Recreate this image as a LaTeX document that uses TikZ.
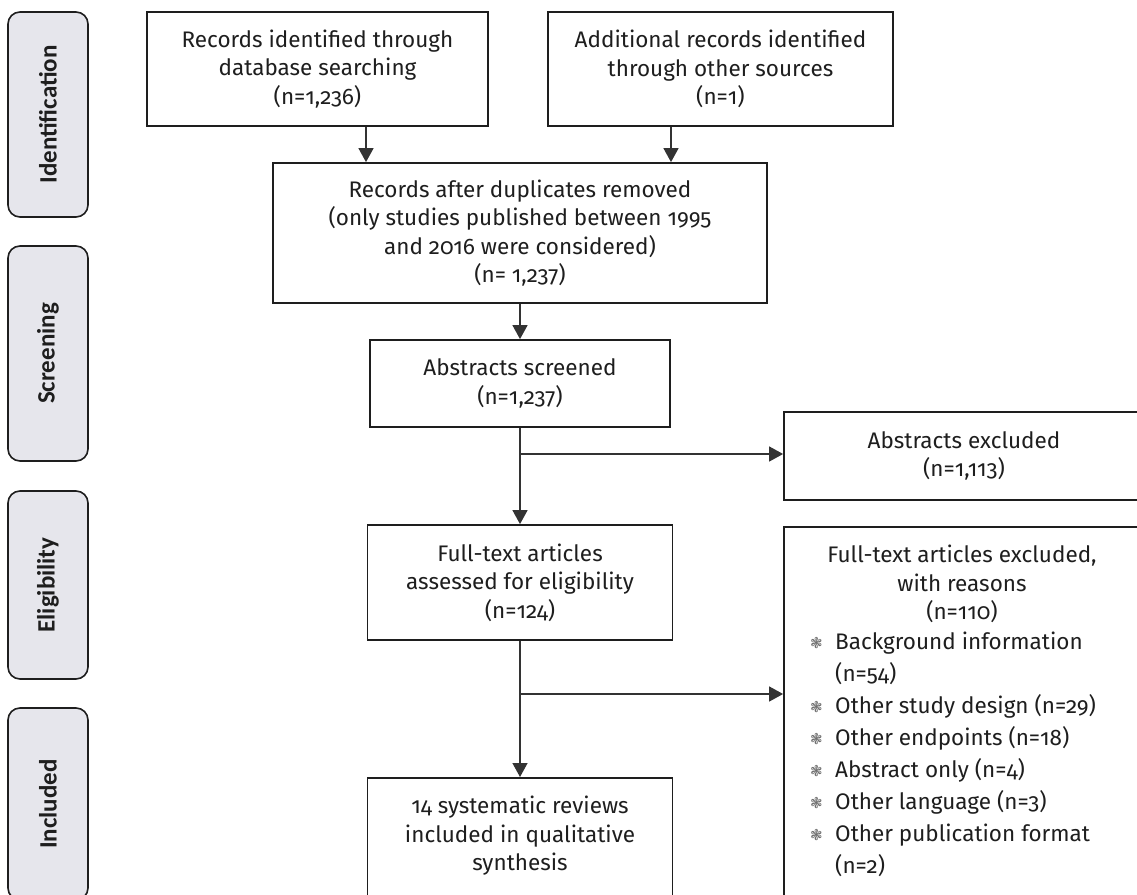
\documentclass[tikz,border=0pt]{standalone}
\usepackage{fontspec}
\setmainfont{Fira Sans}[Numbers=OldStyle]
\newfontfamily\sidefont{Carlito}
\newfontfamily\symfont{DejaVu Sans}
\usetikzlibrary{arrows.meta,calc}
\definecolor{sidefill}{HTML}{E6E6EC}
\definecolor{ink}{HTML}{1E1E1E}
\definecolor{conncol}{HTML}{333333}
\definecolor{bul}{HTML}{6E6E6E}
\newcommand{\bul}{\makebox[25pt][l]{\raisebox{1pt}{\textcolor{bul}{\symfont\fontsize{15}{15}\selectfont ❃}}}}
\newcommand{\ind}{\hspace*{25pt}}
\begin{document}
\begin{tikzpicture}[x=1pt,y=-1pt,
  sidebox/.style={draw=ink, line width=1.6pt, fill=sidefill, rounded corners=12pt,
    minimum height=80pt, inner sep=0pt, rotate=90,
    font=\sidefont\bfseries\fontsize{25}{30}\selectfont, text=ink},
  flowbox/.style={draw=ink, line width=1.8pt, inner sep=0pt, align=center,
    font=\fontsize{22.5}{28.5}\selectfont, text=ink},
  plaintext/.style={inner sep=0pt, align=center, font=\fontsize{22.5}{28.5}\selectfont, text=ink},
  arr/.style={draw=conncol, line width=1.4pt, -{Triangle[width=15pt,length=14pt]}},
  conn/.style={draw=conncol, line width=1.4pt}]
\useasboundingbox[fill=white] (0,0) rectangle (1137,894);

% phase labels
\node[sidebox, minimum width=205pt] (sid) at (48,114.5) {Identification};
\node[sidebox, minimum width=215pt] (sscr) at (48,353.5) {Screening};
\node[sidebox, minimum width=188pt] (selig) at (48,585) {Eligibility};
\node[sidebox, minimum width=192pt] (sinc) at (48,804) {Included};

% flow boxes
\node[flowbox, minimum width=341pt, minimum height=114pt] (b1) at (317.5,69)
  {Records identified through\\database searching\\(n=1,236)};
\node[flowbox, minimum width=345pt, minimum height=114pt] (b2) at (720.5,69)
  {Additional records identified\\through other sources\\(n=1)};
\node[flowbox, minimum width=494pt, minimum height=140pt] (b3) at (520,233)
  {Records after duplicates removed\\(only studies published between 1995\\and 2016 were considered)\\(n= 1,237)};
\node[flowbox, minimum width=300pt, minimum height=87pt] (b4) at (520,383.5)
  {Abstracts screened\\(n=1,237)};
\node[flowbox, minimum width=305pt, minimum height=115pt] (b5) at (520,582.5)
  {Full-text articles\\assessed for eligibility\\(n=124)};
\node[flowbox, minimum width=305pt, minimum height=160pt, anchor=north] (b6) at (520,777) {};
\node[plaintext] (b6t) at (520,836) {14 systematic reviews\\included in qualitative\\synthesis};
\node[flowbox, minimum width=360pt, minimum height=88pt] (b7) at (964,456)
  {Abstracts excluded\\(n=1,113)};
\node[flowbox, minimum width=360pt, minimum height=420pt, anchor=north] (b8) at (964,526) {};
\node[plaintext] (b8h) at (962,584) {Full-text articles excluded,\\with reasons\\(n=110)};
\node[inner sep=0pt, align=left, anchor=north west, text=ink,
  font=\fontsize{22.5}{32}\selectfont] (b8l) at (810,632)
  {\bul Background information\\
   \ind (n=54)\\
   \bul Other study design (n=29)\\
   \bul Other endpoints (n=18)\\
   \bul Abstract only (n=4)\\
   \bul Other language (n=3)\\
   \bul Other publication format\\
   \ind (n=2)};

% connectors
\coordinate (xa) at (366,0);
\coordinate (xb) at (671,0);
\coordinate (j1) at (520,454);
\coordinate (j2) at (520,694);
\draw[arr] (b1.south -| xa) -- (b3.north -| xa);
\draw[arr] (b2.south -| xb) -- (b3.north -| xb);
\draw[arr] (b3.south) -- (b4.north);
\draw[arr] (b4.south) -- (b5.north);
\draw[arr] (j1) -- (j1 -| b7.west);
\draw[arr] (b5.south) -- (b6.north);
\draw[arr] (j2) -- (j2 -| b8.west);
\end{tikzpicture}
\end{document}
